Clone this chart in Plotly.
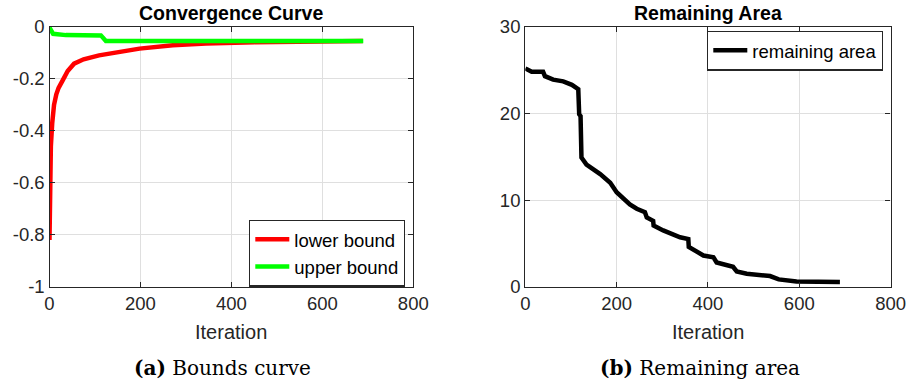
import plotly.graph_objects as go

# ---- data ----
lb_iter = [0, 1, 3, 6, 10, 15, 20, 29, 40, 54, 75, 109, 161, 198, 271, 344, 450, 550, 689]
lb_val = [-0.82, -0.62, -0.46, -0.37, -0.30, -0.26, -0.235, -0.206, -0.17, -0.142, -0.125,
          -0.11, -0.093, -0.084, -0.071, -0.064, -0.059, -0.056, -0.055]

ub_iter = [0, 4, 8, 36, 113, 124, 690]
ub_val = [-0.003, -0.02, -0.027, -0.032, -0.033, -0.055, -0.055]

ra_iter = [0, 3, 14, 39, 43, 61, 83, 102, 116, 118, 121, 123, 134, 164, 186, 200, 229, 244,
           262, 266, 280, 281, 302, 339, 357, 358, 375, 390, 412, 419, 455, 463, 485, 536,
           555, 594, 689]
ra_val = [25.2, 25.1, 24.8, 24.8, 24.3, 23.9, 23.7, 23.3, 22.8, 19.9, 19.7, 14.9, 14.1, 13.0,
          12.0, 10.9, 9.5, 9.0, 8.6, 8.0, 7.6, 7.05, 6.5, 5.7, 5.5, 4.6, 4.0, 3.6, 3.4, 2.8,
          2.3, 1.76, 1.5, 1.23, 0.84, 0.6, 0.55]

left_xticks = [0, 200, 400, 600, 800]
left_yticks = [0, -0.2, -0.4, -0.6, -0.8, -1]
left_yticklabels = ["0", "-0.2", "-0.4", "-0.6", "-0.8", "-1"]
right_yticks = [0, 10, 20, 30]

W, H = 909, 388
AX = "#262626"
GRID = "#dfdfdf"
SANS = "Liberation Sans"
SERIF = "DejaVu Serif"

fig = go.Figure()
fig.add_trace(go.Scatter(x=lb_iter, y=lb_val, mode="lines", name="lower bound",
                         line=dict(color="#ff0000", width=4.5), xaxis="x", yaxis="y",
                         legend="legend"))
fig.add_trace(go.Scatter(x=ub_iter, y=ub_val, mode="lines", name="upper bound",
                         line=dict(color="#00ff00", width=4.5), xaxis="x", yaxis="y",
                         legend="legend"))
fig.add_trace(go.Scatter(x=ra_iter, y=ra_val, mode="lines", name="remaining area",
                         line=dict(color="#000000", width=4.5), xaxis="x2", yaxis="y2",
                         legend="legend2"))

L0, L1 = 49.5, 413.3
R0, R1 = 525.3, 890.6
TOP, BOT = 26.8, 286.7
ydom = [(H - BOT) / H, (H - TOP) / H]
common_ax = dict(showline=True, linecolor=AX, linewidth=1.3, mirror="ticks", ticks="inside",
                 ticklen=5, tickcolor=AX, showgrid=True, gridcolor=GRID, gridwidth=1,
                 zeroline=False, automargin=False,
                 tickfont=dict(family=SANS, size=18.5, color=AX))

fig.update_layout(
    width=W, height=H, margin=dict(l=0, r=0, t=0, b=0, autoexpand=False),
    paper_bgcolor="white", plot_bgcolor="white",
    xaxis=dict(domain=[L0 / W, L1 / W], range=[0, 800], tickvals=left_xticks,
               anchor="y", **common_ax),
    yaxis=dict(domain=ydom, range=[-1, 0], tickvals=left_yticks, ticktext=left_yticklabels,
               anchor="x", **common_ax),
    xaxis2=dict(domain=[R0 / W, R1 / W], range=[0, 800], tickvals=left_xticks,
                anchor="y2", **common_ax),
    yaxis2=dict(domain=ydom, range=[0, 30], tickvals=right_yticks, anchor="x2", **common_ax),
    legend=dict(x=405 / W, y=(H - 219.5) / H, xanchor="right", yanchor="top",
                bordercolor=AX, borderwidth=1.3, bgcolor="white",
                font=dict(family=SANS, size=18.5, color="#000"), tracegroupgap=0,
                itemwidth=34),
    legend2=dict(x=883 / W, y=(H - 30.5) / H, xanchor="right", yanchor="top",
                 bordercolor=AX, borderwidth=1.3, bgcolor="white",
                 font=dict(family=SANS, size=18.5, color="#000"), itemwidth=34),
    showlegend=True,
)

ann = [
    dict(text="<b>Convergence Curve</b>", x=(L0 + L1) / 2 / W, y=(H - 13) / H,
         font=dict(family=SANS, size=19.5, color="#000")),
    dict(text="<b>Remaining Area</b>", x=(R0 + R1) / 2 / W, y=(H - 13) / H,
         font=dict(family=SANS, size=19.5, color="#000")),
    dict(text="Iteration", x=(L0 + L1) / 2 / W, y=(H - 332) / H,
         font=dict(family=SANS, size=20, color=AX)),
    dict(text="Iteration", x=(R0 + R1) / 2 / W, y=(H - 332) / H,
         font=dict(family=SANS, size=20, color=AX)),
    dict(text="<b>(a)</b> Bounds curve", x=222 / W, y=(H - 368) / H,
         font=dict(family=SERIF, size=20, color="#000")),
    dict(text="<b>(b)</b> Remaining area", x=700 / W, y=(H - 368) / H,
         font=dict(family=SERIF, size=20, color="#000")),
]
for a in ann:
    fig.add_annotation(xref="paper", yref="paper", showarrow=False, xanchor="center",
                       yanchor="middle", **a)

fig.write_html("out.html")
